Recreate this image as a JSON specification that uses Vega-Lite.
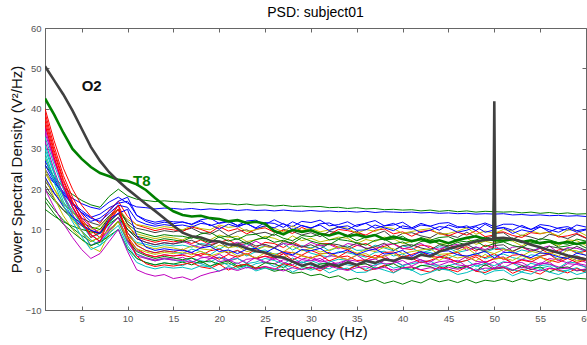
{
"$schema":"https://vega.github.io/schema/vega-lite/v6.json",
"autosize":{"type":"none"},
"width":541,"height":282,
"padding":{"left":45,"top":28,"right":1,"bottom":35},
"background":"white",
"title":{"text":"PSD: subject01","fontSize":14,"fontWeight":"normal","font":"Liberation Sans","color":"#000","offset":3,"anchor":"middle"},
"config":{"view":{"stroke":"#666","strokeWidth":1},"font":"Liberation Sans"},
"datasets":{
"bg":[
{"c":1,"f":1,"v":24},{"c":1,"f":2,"v":21.5},{"c":1,"f":3,"v":19.3},{"c":1,"f":4,"v":17.7},{"c":1,"f":5,"v":16.4},{"c":1,"f":6,"v":15.5},{"c":1,"f":7,"v":15},{"c":1,"f":8,"v":16.8},{"c":1,"f":9,"v":18},{"c":1,"f":10,"v":16.5},{"c":1,"f":11,"v":15.6},{"c":1,"f":12,"v":15.4},{"c":1,"f":13,"v":15.1},{"c":1,"f":14,"v":15.3},{"c":1,"f":15,"v":15.2},
{"c":1,"f":16,"v":15.0},{"c":1,"f":17,"v":15.2},{"c":1,"f":18,"v":14.9},{"c":1,"f":19,"v":15.1},{"c":1,"f":20,"v":14.9},{"c":1,"f":21,"v":15.0},{"c":1,"f":22,"v":14.7},{"c":1,"f":23,"v":14.9},{"c":1,"f":24,"v":14.7},{"c":1,"f":25,"v":14.8},{"c":1,"f":26,"v":14.6},{"c":1,"f":27,"v":14.8},{"c":1,"f":28,"v":14.6},{"c":1,"f":29,"v":14.5},{"c":1,"f":30,"v":14.7},
{"c":1,"f":31,"v":14.5},{"c":1,"f":32,"v":14.6},{"c":1,"f":33,"v":14.4},{"c":1,"f":34,"v":14.5},{"c":1,"f":35,"v":14.3},{"c":1,"f":36,"v":14.5},{"c":1,"f":37,"v":14.2},{"c":1,"f":38,"v":14.4},{"c":1,"f":39,"v":14.3},{"c":1,"f":40,"v":14.2},{"c":1,"f":41,"v":14.3},{"c":1,"f":42,"v":14.1},{"c":1,"f":43,"v":14.2},{"c":1,"f":44,"v":14.0},{"c":1,"f":45,"v":14.1},
{"c":1,"f":46,"v":13.9},{"c":1,"f":47,"v":14.0},{"c":1,"f":48,"v":13.8},{"c":1,"f":49,"v":13.9},{"c":1,"f":50,"v":13.8},{"c":1,"f":51,"v":13.9},{"c":1,"f":52,"v":13.6},{"c":1,"f":53,"v":13.7},{"c":1,"f":54,"v":13.5},{"c":1,"f":55,"v":13.6},{"c":1,"f":56,"v":13.4},{"c":1,"f":57,"v":13.5},{"c":1,"f":58,"v":13.3},{"c":1,"f":59,"v":13.4},{"c":1,"f":60,"v":13.2},
{"c":2,"f":1,"v":26},{"c":2,"f":2,"v":23.1},{"c":2,"f":3,"v":20.5},{"c":2,"f":4,"v":18.7},{"c":2,"f":5,"v":17.2},{"c":2,"f":6,"v":16.1},{"c":2,"f":7,"v":15.5},{"c":2,"f":8,"v":18.2},{"c":2,"f":9,"v":20},{"c":2,"f":10,"v":18.3},{"c":2,"f":11,"v":17.5},{"c":2,"f":12,"v":17.2},{"c":2,"f":13,"v":16.9},{"c":2,"f":14,"v":17.1},{"c":2,"f":15,"v":16.9},
{"c":2,"f":16,"v":16.8},{"c":2,"f":17,"v":16.6},{"c":2,"f":18,"v":16.7},{"c":2,"f":19,"v":16.4},{"c":2,"f":20,"v":16.3},{"c":2,"f":21,"v":16.4},{"c":2,"f":22,"v":16.1},{"c":2,"f":23,"v":16.3},{"c":2,"f":24,"v":16.0},{"c":2,"f":25,"v":16.1},{"c":2,"f":26,"v":15.8},{"c":2,"f":27,"v":16.0},{"c":2,"f":28,"v":15.7},{"c":2,"f":29,"v":15.8},{"c":2,"f":30,"v":15.6},
{"c":2,"f":31,"v":15.7},{"c":2,"f":32,"v":15.4},{"c":2,"f":33,"v":15.5},{"c":2,"f":34,"v":15.2},{"c":2,"f":35,"v":15.4},{"c":2,"f":36,"v":15.1},{"c":2,"f":37,"v":15.2},{"c":2,"f":38,"v":14.9},{"c":2,"f":39,"v":15.0},{"c":2,"f":40,"v":14.8},{"c":2,"f":41,"v":14.9},{"c":2,"f":42,"v":14.6},{"c":2,"f":43,"v":14.8},{"c":2,"f":44,"v":14.5},{"c":2,"f":45,"v":14.7},
{"c":2,"f":46,"v":14.4},{"c":2,"f":47,"v":14.6},{"c":2,"f":48,"v":14.3},{"c":2,"f":49,"v":14.5},{"c":2,"f":50,"v":14.4},{"c":2,"f":51,"v":14.3},{"c":2,"f":52,"v":14.4},{"c":2,"f":53,"v":14.1},{"c":2,"f":54,"v":14.3},{"c":2,"f":55,"v":14.0},{"c":2,"f":56,"v":14.2},{"c":2,"f":57,"v":13.9},{"c":2,"f":58,"v":14.1},{"c":2,"f":59,"v":13.8},{"c":2,"f":60,"v":13.9},
{"c":3,"f":1,"v":39},{"c":3,"f":2,"v":30.6},{"c":3,"f":3,"v":23.4},{"c":3,"f":4,"v":18},{"c":3,"f":5,"v":13.8},{"c":3,"f":6,"v":10.8},{"c":3,"f":7,"v":9},{"c":3,"f":8,"v":13.2},{"c":3,"f":9,"v":16},{"c":3,"f":10,"v":11.2},{"c":3,"f":11,"v":8.1},{"c":3,"f":12,"v":7.4},{"c":3,"f":13,"v":6.8},{"c":3,"f":14,"v":7.3},{"c":3,"f":15,"v":6.9},
{"c":3,"f":16,"v":7.3},{"c":3,"f":17,"v":6.5},{"c":3,"f":18,"v":7.4},{"c":3,"f":19,"v":6.2},{"c":3,"f":20,"v":6.8},{"c":3,"f":21,"v":7.4},{"c":3,"f":22,"v":6.1},{"c":3,"f":23,"v":6.5},{"c":3,"f":24,"v":5.5},{"c":3,"f":25,"v":6.8},{"c":3,"f":26,"v":6.5},{"c":3,"f":27,"v":5.5},{"c":3,"f":28,"v":6.9},{"c":3,"f":29,"v":5.8},{"c":3,"f":30,"v":5.3},
{"c":3,"f":31,"v":6.4},{"c":3,"f":32,"v":6.5},{"c":3,"f":33,"v":5.6},{"c":3,"f":34,"v":5.0},{"c":3,"f":35,"v":6.0},{"c":3,"f":36,"v":6.5},{"c":3,"f":37,"v":5.3},{"c":3,"f":38,"v":5.8},{"c":3,"f":39,"v":6.5},{"c":3,"f":40,"v":5.3},{"c":3,"f":41,"v":5.0},{"c":3,"f":42,"v":6.1},{"c":3,"f":43,"v":5.8},{"c":3,"f":44,"v":4.7},{"c":3,"f":45,"v":6.1},
{"c":3,"f":46,"v":5.3},{"c":3,"f":47,"v":5.7},{"c":3,"f":48,"v":4.6},{"c":3,"f":49,"v":6.1},{"c":3,"f":49.9,"v":5.5},{"c":3,"f":50,"v":18},{"c":3,"f":50.1,"v":5.0},{"c":3,"f":51,"v":5.2},{"c":3,"f":52,"v":4.5},{"c":3,"f":53,"v":5.6},{"c":3,"f":54,"v":4.6},{"c":3,"f":55,"v":5.3},{"c":3,"f":56,"v":3.9},{"c":3,"f":57,"v":4.9},{"c":3,"f":58,"v":5.2},{"c":3,"f":59,"v":4.1},{"c":3,"f":60,"v":4.6},
{"c":4,"f":1,"v":33},{"c":4,"f":2,"v":26},{"c":4,"f":3,"v":20},{"c":4,"f":4,"v":15.5},{"c":4,"f":5,"v":11.5},{"c":4,"f":6,"v":8},{"c":4,"f":7,"v":9.2},{"c":4,"f":8,"v":11.6},{"c":4,"f":9,"v":14},{"c":4,"f":10,"v":9.2},{"c":4,"f":11,"v":6},{"c":4,"f":12,"v":4.8},{"c":4,"f":13,"v":4.2},{"c":4,"f":14,"v":4.7},{"c":4,"f":15,"v":4.4},
{"c":4,"f":16,"v":4.0},{"c":4,"f":17,"v":5.1},{"c":4,"f":18,"v":4.5},{"c":4,"f":19,"v":3.7},{"c":4,"f":20,"v":5.2},{"c":4,"f":21,"v":4.1},{"c":4,"f":22,"v":4.7},{"c":4,"f":23,"v":3.4},{"c":4,"f":24,"v":4.5},{"c":4,"f":25,"v":4.9},{"c":4,"f":26,"v":3.8},{"c":4,"f":27,"v":4.3},{"c":4,"f":28,"v":3.5},{"c":4,"f":29,"v":5.0},{"c":4,"f":30,"v":4.1},
{"c":4,"f":31,"v":3.5},{"c":4,"f":32,"v":3.2},{"c":4,"f":33,"v":4.5},{"c":4,"f":34,"v":4.2},{"c":4,"f":35,"v":3.7},{"c":4,"f":36,"v":3.1},{"c":4,"f":37,"v":4.3},{"c":4,"f":38,"v":4.6},{"c":4,"f":39,"v":3.4},{"c":4,"f":40,"v":3.9},{"c":4,"f":41,"v":2.8},{"c":4,"f":42,"v":4.0},{"c":4,"f":43,"v":4.3},{"c":4,"f":44,"v":3.5},{"c":4,"f":45,"v":2.9},
{"c":4,"f":46,"v":3.8},{"c":4,"f":47,"v":3.1},{"c":4,"f":48,"v":4.2},{"c":4,"f":49,"v":2.7},{"c":4,"f":50,"v":3.5},{"c":4,"f":51,"v":3.9},{"c":4,"f":52,"v":3.0},{"c":4,"f":53,"v":2.5},{"c":4,"f":54,"v":3.7},{"c":4,"f":55,"v":3.4},{"c":4,"f":56,"v":3.9},{"c":4,"f":57,"v":2.6},{"c":4,"f":58,"v":2.9},{"c":4,"f":59,"v":3.5},{"c":4,"f":60,"v":2.4},
{"c":5,"f":1,"v":36},{"c":5,"f":2,"v":27.9},{"c":5,"f":3,"v":20.9},{"c":5,"f":4,"v":15.7},{"c":5,"f":5,"v":11.6},{"c":5,"f":6,"v":8.7},{"c":5,"f":7,"v":7},{"c":5,"f":8,"v":10.6},{"c":5,"f":9,"v":13},{"c":5,"f":10,"v":7.3},{"c":5,"f":11,"v":3.9},{"c":5,"f":12,"v":3.0},{"c":5,"f":13,"v":2.4},{"c":5,"f":14,"v":2.9},{"c":5,"f":15,"v":2.6},
{"c":5,"f":16,"v":3.1},{"c":5,"f":17,"v":2.1},{"c":5,"f":18,"v":1.5},{"c":5,"f":19,"v":2.7},{"c":5,"f":20,"v":3.1},{"c":5,"f":21,"v":2.1},{"c":5,"f":22,"v":2.8},{"c":5,"f":23,"v":1.7},{"c":5,"f":24,"v":3.1},{"c":5,"f":25,"v":1.9},{"c":5,"f":26,"v":1.4},{"c":5,"f":27,"v":2.5},{"c":5,"f":28,"v":2.2},{"c":5,"f":29,"v":1.6},{"c":5,"f":30,"v":2.8},
{"c":5,"f":31,"v":1.9},{"c":5,"f":32,"v":2.3},{"c":5,"f":33,"v":1.2},{"c":5,"f":34,"v":2.5},{"c":5,"f":35,"v":2.1},{"c":5,"f":36,"v":1.4},{"c":5,"f":37,"v":0.9},{"c":5,"f":38,"v":2.3},{"c":5,"f":39,"v":2.4},{"c":5,"f":40,"v":1.1},{"c":5,"f":41,"v":1.8},{"c":5,"f":42,"v":2.5},{"c":5,"f":43,"v":1.3},{"c":5,"f":44,"v":1.1},{"c":5,"f":45,"v":1.9},
{"c":5,"f":46,"v":2.3},{"c":5,"f":47,"v":0.8},{"c":5,"f":48,"v":1.6},{"c":5,"f":49,"v":1.0},{"c":5,"f":50,"v":2.0},{"c":5,"f":51,"v":0.5},{"c":5,"f":52,"v":1.6},{"c":5,"f":53,"v":1.8},{"c":5,"f":54,"v":0.6},{"c":5,"f":55,"v":1.3},{"c":5,"f":56,"v":1.9},{"c":5,"f":57,"v":0.2},{"c":5,"f":58,"v":1.5},{"c":5,"f":59,"v":1.3},{"c":5,"f":60,"v":0.7},
{"c":6,"f":1,"v":28},{"c":6,"f":2,"v":22.7},{"c":6,"f":3,"v":18.1},{"c":6,"f":4,"v":14.7},{"c":6,"f":5,"v":11.7},{"c":6,"f":6,"v":9},{"c":6,"f":7,"v":10},{"c":6,"f":8,"v":12},{"c":6,"f":9,"v":14},{"c":6,"f":10,"v":10.7},{"c":6,"f":11,"v":8.9},{"c":6,"f":12,"v":8.3},{"c":6,"f":13,"v":7.7},{"c":6,"f":14,"v":8.2},{"c":6,"f":15,"v":7.9},
{"c":6,"f":16,"v":7.4},{"c":6,"f":17,"v":8.4},{"c":6,"f":18,"v":7.7},{"c":6,"f":19,"v":7.4},{"c":6,"f":20,"v":8.6},{"c":6,"f":21,"v":8.0},{"c":6,"f":22,"v":8.3},{"c":6,"f":23,"v":7.0},{"c":6,"f":24,"v":7.4},{"c":6,"f":25,"v":8.3},{"c":6,"f":26,"v":7.8},{"c":6,"f":27,"v":6.9},{"c":6,"f":28,"v":8.4},{"c":6,"f":29,"v":7.2},{"c":6,"f":30,"v":7.8},
{"c":6,"f":31,"v":6.9},{"c":6,"f":32,"v":7.4},{"c":6,"f":33,"v":8.1},{"c":6,"f":34,"v":7.8},{"c":6,"f":35,"v":6.5},{"c":6,"f":36,"v":7.5},{"c":6,"f":37,"v":7.0},{"c":6,"f":38,"v":8.1},{"c":6,"f":39,"v":7.7},{"c":6,"f":40,"v":6.5},{"c":6,"f":41,"v":7.0},{"c":6,"f":42,"v":7.4},{"c":6,"f":43,"v":7.7},{"c":6,"f":44,"v":6.3},{"c":6,"f":45,"v":6.5},
{"c":6,"f":46,"v":7.1},{"c":6,"f":47,"v":7.9},{"c":6,"f":48,"v":6.3},{"c":6,"f":49,"v":7.1},{"c":6,"f":50,"v":6.5},{"c":6,"f":51,"v":7.5},{"c":6,"f":52,"v":7.1},{"c":6,"f":53,"v":5.9},{"c":6,"f":54,"v":7.1},{"c":6,"f":55,"v":6.5},{"c":6,"f":56,"v":6.8},{"c":6,"f":57,"v":5.9},{"c":6,"f":58,"v":7.4},{"c":6,"f":59,"v":7.2},{"c":6,"f":60,"v":6.0},
{"c":7,"f":1,"v":22},{"c":7,"f":2,"v":18.9},{"c":7,"f":3,"v":16.3},{"c":7,"f":4,"v":14.3},{"c":7,"f":5,"v":12.8},{"c":7,"f":6,"v":11.7},{"c":7,"f":7,"v":11},{"c":7,"f":8,"v":13.4},{"c":7,"f":9,"v":15},{"c":7,"f":10,"v":12.0},{"c":7,"f":11,"v":10.3},{"c":7,"f":12,"v":9.8},{"c":7,"f":13,"v":9.2},{"c":7,"f":14,"v":9.7},{"c":7,"f":15,"v":9.4},
{"c":7,"f":16,"v":9.8},{"c":7,"f":17,"v":10.3},{"c":7,"f":18,"v":9.2},{"c":7,"f":19,"v":8.8},{"c":7,"f":20,"v":9.9},{"c":7,"f":21,"v":8.4},{"c":7,"f":22,"v":9.5},{"c":7,"f":23,"v":9.9},{"c":7,"f":24,"v":8.9},{"c":7,"f":25,"v":9.3},{"c":7,"f":26,"v":8.5},{"c":7,"f":27,"v":10.0},{"c":7,"f":28,"v":9.5},{"c":7,"f":29,"v":8.6},{"c":7,"f":30,"v":9.2},
{"c":7,"f":31,"v":8.2},{"c":7,"f":32,"v":9.5},{"c":7,"f":33,"v":9.2},{"c":7,"f":34,"v":8.5},{"c":7,"f":35,"v":9.6},{"c":7,"f":36,"v":8.2},{"c":7,"f":37,"v":8.7},{"c":7,"f":38,"v":9.6},{"c":7,"f":39,"v":7.8},{"c":7,"f":40,"v":9.0},{"c":7,"f":41,"v":9.2},{"c":7,"f":42,"v":8.4},{"c":7,"f":43,"v":7.9},{"c":7,"f":44,"v":9.2},{"c":7,"f":45,"v":8.6},
{"c":7,"f":46,"v":8.0},{"c":7,"f":47,"v":9.3},{"c":7,"f":48,"v":8.1},{"c":7,"f":49,"v":7.8},{"c":7,"f":49.9,"v":8.3},{"c":7,"f":50,"v":36},{"c":7,"f":50.1,"v":9.0},{"c":7,"f":51,"v":9.2},{"c":7,"f":52,"v":7.6},{"c":7,"f":53,"v":8.6},{"c":7,"f":54,"v":8.1},{"c":7,"f":55,"v":7.4},{"c":7,"f":56,"v":8.8},{"c":7,"f":57,"v":8.4},{"c":7,"f":58,"v":7.7},{"c":7,"f":59,"v":8.8},{"c":7,"f":60,"v":7.8},
{"c":8,"f":1,"v":25},{"c":8,"f":2,"v":21.6},{"c":8,"f":3,"v":18.8},{"c":8,"f":4,"v":16.6},{"c":8,"f":5,"v":14.7},{"c":8,"f":6,"v":13},{"c":8,"f":7,"v":13.8},{"c":8,"f":8,"v":15.4},{"c":8,"f":9,"v":16.5},{"c":8,"f":10,"v":17},{"c":8,"f":11,"v":13.5},{"c":8,"f":12,"v":12.4},{"c":8,"f":13,"v":11.8},{"c":8,"f":14,"v":12.2},{"c":8,"f":15,"v":11.9},
{"c":8,"f":16,"v":11.8},{"c":8,"f":17,"v":11.3},{"c":8,"f":18,"v":12.4},{"c":8,"f":19,"v":12.8},{"c":8,"f":20,"v":11.5},{"c":8,"f":21,"v":11.9},{"c":8,"f":22,"v":11.0},{"c":8,"f":23,"v":12.1},{"c":8,"f":24,"v":12.3},{"c":8,"f":25,"v":11.2},{"c":8,"f":26,"v":12.4},{"c":8,"f":27,"v":11.3},{"c":8,"f":28,"v":10.7},{"c":8,"f":29,"v":12.0},{"c":8,"f":30,"v":11.7},
{"c":8,"f":31,"v":12.3},{"c":8,"f":32,"v":10.9},{"c":8,"f":33,"v":11.2},{"c":8,"f":34,"v":11.9},{"c":8,"f":35,"v":10.7},{"c":8,"f":36,"v":11.6},{"c":8,"f":37,"v":12.2},{"c":8,"f":38,"v":10.9},{"c":8,"f":39,"v":11.1},{"c":8,"f":40,"v":11.8},{"c":8,"f":41,"v":10.4},{"c":8,"f":42,"v":11.5},{"c":8,"f":43,"v":10.8},{"c":8,"f":44,"v":11.5},{"c":8,"f":45,"v":11.7},
{"c":8,"f":46,"v":10.7},{"c":8,"f":47,"v":10.4},{"c":8,"f":48,"v":10.9},{"c":8,"f":49,"v":11.6},{"c":8,"f":49.9,"v":10.8},{"c":8,"f":50,"v":23},{"c":8,"f":50.1,"v":10.6},{"c":8,"f":51,"v":11.3},{"c":8,"f":52,"v":11.3},{"c":8,"f":53,"v":10.6},{"c":8,"f":54,"v":10.0},{"c":8,"f":55,"v":11.2},{"c":8,"f":56,"v":10.9},{"c":8,"f":57,"v":10.2},{"c":8,"f":58,"v":9.8},{"c":8,"f":59,"v":11.1},{"c":8,"f":60,"v":10.6},
{"c":9,"f":1,"v":20},{"c":9,"f":2,"v":17.2},{"c":9,"f":3,"v":14.8},{"c":9,"f":4,"v":13},{"c":9,"f":5,"v":11.6},{"c":9,"f":6,"v":10.6},{"c":9,"f":7,"v":10},{"c":9,"f":8,"v":13},{"c":9,"f":9,"v":15},{"c":9,"f":10,"v":11.4},{"c":9,"f":11,"v":9.5},{"c":9,"f":12,"v":8.8},{"c":9,"f":13,"v":8.2},{"c":9,"f":14,"v":8.7},{"c":9,"f":15,"v":8.4},
{"c":9,"f":16,"v":8.3},{"c":9,"f":17,"v":7.8},{"c":9,"f":18,"v":8.9},{"c":9,"f":19,"v":9.3},{"c":9,"f":20,"v":8.0},{"c":9,"f":21,"v":8.4},{"c":9,"f":22,"v":7.5},{"c":9,"f":23,"v":8.6},{"c":9,"f":24,"v":8.8},{"c":9,"f":25,"v":7.7},{"c":9,"f":26,"v":8.9},{"c":9,"f":27,"v":7.8},{"c":9,"f":28,"v":7.2},{"c":9,"f":29,"v":8.5},{"c":9,"f":30,"v":8.2},
{"c":9,"f":31,"v":8.8},{"c":9,"f":32,"v":7.4},{"c":9,"f":33,"v":7.7},{"c":9,"f":34,"v":8.4},{"c":9,"f":35,"v":7.2},{"c":9,"f":36,"v":8.1},{"c":9,"f":37,"v":8.7},{"c":9,"f":38,"v":7.4},{"c":9,"f":39,"v":7.6},{"c":9,"f":40,"v":8.3},{"c":9,"f":41,"v":6.9},{"c":9,"f":42,"v":8.0},{"c":9,"f":43,"v":7.3},{"c":9,"f":44,"v":8.0},{"c":9,"f":45,"v":8.2},
{"c":9,"f":46,"v":7.2},{"c":9,"f":47,"v":6.9},{"c":9,"f":48,"v":7.4},{"c":9,"f":49,"v":8.1},{"c":9,"f":49.9,"v":7.3},{"c":9,"f":50,"v":16},{"c":9,"f":50.1,"v":7.1},{"c":9,"f":51,"v":7.8},{"c":9,"f":52,"v":7.8},{"c":9,"f":53,"v":7.1},{"c":9,"f":54,"v":6.5},{"c":9,"f":55,"v":7.7},{"c":9,"f":56,"v":7.4},{"c":9,"f":57,"v":6.7},{"c":9,"f":58,"v":6.3},{"c":9,"f":59,"v":7.6},{"c":9,"f":60,"v":7.1},
{"c":10,"f":1,"v":40},{"c":10,"f":2,"v":32},{"c":10,"f":3,"v":25.2},{"c":10,"f":4,"v":20},{"c":10,"f":5,"v":16},{"c":10,"f":6,"v":13.2},{"c":10,"f":7,"v":11.5},{"c":10,"f":8,"v":14.8},{"c":10,"f":9,"v":17},{"c":10,"f":10,"v":13.2},{"c":10,"f":11,"v":11.1},{"c":10,"f":12,"v":10.4},{"c":10,"f":13,"v":9.7},{"c":10,"f":14,"v":10.2},{"c":10,"f":15,"v":9.9},
{"c":10,"f":16,"v":9.5},{"c":10,"f":17,"v":10.6},{"c":10,"f":18,"v":10.0},{"c":10,"f":19,"v":9.2},{"c":10,"f":20,"v":10.7},{"c":10,"f":21,"v":9.6},{"c":10,"f":22,"v":10.2},{"c":10,"f":23,"v":8.9},{"c":10,"f":24,"v":10.0},{"c":10,"f":25,"v":10.4},{"c":10,"f":26,"v":9.3},{"c":10,"f":27,"v":9.8},{"c":10,"f":28,"v":9.0},{"c":10,"f":29,"v":10.5},{"c":10,"f":30,"v":9.6},
{"c":10,"f":31,"v":9.0},{"c":10,"f":32,"v":8.7},{"c":10,"f":33,"v":10.0},{"c":10,"f":34,"v":9.7},{"c":10,"f":35,"v":9.2},{"c":10,"f":36,"v":8.6},{"c":10,"f":37,"v":9.8},{"c":10,"f":38,"v":10.1},{"c":10,"f":39,"v":8.9},{"c":10,"f":40,"v":9.4},{"c":10,"f":41,"v":8.3},{"c":10,"f":42,"v":9.5},{"c":10,"f":43,"v":9.8},{"c":10,"f":44,"v":9.0},{"c":10,"f":45,"v":8.4},
{"c":10,"f":46,"v":9.3},{"c":10,"f":47,"v":8.6},{"c":10,"f":48,"v":9.7},{"c":10,"f":49,"v":8.2},{"c":10,"f":49.9,"v":8.6},{"c":10,"f":50,"v":20},{"c":10,"f":50.1,"v":9.2},{"c":10,"f":51,"v":9.4},{"c":10,"f":52,"v":8.5},{"c":10,"f":53,"v":8.0},{"c":10,"f":54,"v":9.2},{"c":10,"f":55,"v":8.9},{"c":10,"f":56,"v":9.4},{"c":10,"f":57,"v":8.1},{"c":10,"f":58,"v":8.4},{"c":10,"f":59,"v":9.0},{"c":10,"f":60,"v":7.9},
{"c":11,"f":1,"v":30},{"c":11,"f":2,"v":23.8},{"c":11,"f":3,"v":18.6},{"c":11,"f":4,"v":14.6},{"c":11,"f":5,"v":11.1},{"c":11,"f":6,"v":8},{"c":11,"f":7,"v":9},{"c":11,"f":8,"v":11},{"c":11,"f":9,"v":13},{"c":11,"f":10,"v":9.2},{"c":11,"f":11,"v":6.8},{"c":11,"f":12,"v":6.3},{"c":11,"f":13,"v":5.7},{"c":11,"f":14,"v":6.2},{"c":11,"f":15,"v":5.9},
{"c":11,"f":16,"v":6.1},{"c":11,"f":17,"v":5.6},{"c":11,"f":18,"v":6.5},{"c":11,"f":19,"v":6.2},{"c":11,"f":20,"v":5.1},{"c":11,"f":21,"v":6.3},{"c":11,"f":22,"v":5.6},{"c":11,"f":23,"v":6.5},{"c":11,"f":24,"v":5.2},{"c":11,"f":25,"v":5.9},{"c":11,"f":26,"v":5.4},{"c":11,"f":27,"v":6.5},{"c":11,"f":28,"v":4.9},{"c":11,"f":29,"v":6.0},{"c":11,"f":30,"v":5.4},
{"c":11,"f":31,"v":6.1},{"c":11,"f":32,"v":4.7},{"c":11,"f":33,"v":5.6},{"c":11,"f":34,"v":5.9},{"c":11,"f":35,"v":4.8},{"c":11,"f":36,"v":4.9},{"c":11,"f":37,"v":6.1},{"c":11,"f":38,"v":5.4},{"c":11,"f":39,"v":4.7},{"c":11,"f":40,"v":5.9},{"c":11,"f":41,"v":5.4},{"c":11,"f":42,"v":4.2},{"c":11,"f":43,"v":4.8},{"c":11,"f":44,"v":5.7},{"c":11,"f":45,"v":5.4},
{"c":11,"f":46,"v":4.3},{"c":11,"f":47,"v":4.8},{"c":11,"f":48,"v":5.7},{"c":11,"f":49,"v":4.3},{"c":11,"f":50,"v":5.2},{"c":11,"f":51,"v":5.4},{"c":11,"f":52,"v":4.0},{"c":11,"f":53,"v":4.9},{"c":11,"f":54,"v":4.4},{"c":11,"f":55,"v":5.6},{"c":11,"f":56,"v":4.9},{"c":11,"f":57,"v":4.3},{"c":11,"f":58,"v":5.3},{"c":11,"f":59,"v":4.3},{"c":11,"f":60,"v":4.9},
{"c":12,"f":1,"v":34},{"c":12,"f":2,"v":27},{"c":12,"f":3,"v":21},{"c":12,"f":4,"v":16.5},{"c":12,"f":5,"v":13},{"c":12,"f":6,"v":10.5},{"c":12,"f":7,"v":9},{"c":12,"f":8,"v":12},{"c":12,"f":9,"v":14},{"c":12,"f":10,"v":10.0},{"c":12,"f":11,"v":7.7},{"c":12,"f":12,"v":6.8},{"c":12,"f":13,"v":6.2},{"c":12,"f":14,"v":6.7},{"c":12,"f":15,"v":6.4},
{"c":12,"f":16,"v":7.1},{"c":12,"f":17,"v":6.1},{"c":12,"f":18,"v":5.5},{"c":12,"f":19,"v":6.7},{"c":12,"f":20,"v":7.1},{"c":12,"f":21,"v":6.1},{"c":12,"f":22,"v":6.8},{"c":12,"f":23,"v":5.7},{"c":12,"f":24,"v":7.1},{"c":12,"f":25,"v":5.9},{"c":12,"f":26,"v":5.4},{"c":12,"f":27,"v":6.5},{"c":12,"f":28,"v":6.2},{"c":12,"f":29,"v":5.6},{"c":12,"f":30,"v":6.8},
{"c":12,"f":31,"v":5.9},{"c":12,"f":32,"v":6.3},{"c":12,"f":33,"v":5.2},{"c":12,"f":34,"v":6.5},{"c":12,"f":35,"v":6.1},{"c":12,"f":36,"v":5.4},{"c":12,"f":37,"v":4.9},{"c":12,"f":38,"v":6.3},{"c":12,"f":39,"v":6.4},{"c":12,"f":40,"v":5.1},{"c":12,"f":41,"v":5.8},{"c":12,"f":42,"v":6.5},{"c":12,"f":43,"v":5.3},{"c":12,"f":44,"v":5.1},{"c":12,"f":45,"v":5.9},
{"c":12,"f":46,"v":6.3},{"c":12,"f":47,"v":4.8},{"c":12,"f":48,"v":5.6},{"c":12,"f":49,"v":5.0},{"c":12,"f":50,"v":6.0},{"c":12,"f":51,"v":4.5},{"c":12,"f":52,"v":5.6},{"c":12,"f":53,"v":5.8},{"c":12,"f":54,"v":4.6},{"c":12,"f":55,"v":5.3},{"c":12,"f":56,"v":5.9},{"c":12,"f":57,"v":4.2},{"c":12,"f":58,"v":5.5},{"c":12,"f":59,"v":5.3},{"c":12,"f":60,"v":4.7},
{"c":13,"f":1,"v":24},{"c":13,"f":2,"v":20.1},{"c":13,"f":3,"v":16.7},{"c":13,"f":4,"v":14.2},{"c":13,"f":5,"v":12},{"c":13,"f":6,"v":10},{"c":13,"f":7,"v":10.8},{"c":13,"f":8,"v":13},{"c":13,"f":9,"v":15},{"c":13,"f":10,"v":12.5},{"c":13,"f":11,"v":11.2},{"c":13,"f":12,"v":10.8},{"c":13,"f":13,"v":10.2},{"c":13,"f":14,"v":10.7},{"c":13,"f":15,"v":10.4},
{"c":13,"f":16,"v":9.9},{"c":13,"f":17,"v":10.9},{"c":13,"f":18,"v":10.2},{"c":13,"f":19,"v":9.9},{"c":13,"f":20,"v":11.1},{"c":13,"f":21,"v":10.5},{"c":13,"f":22,"v":10.8},{"c":13,"f":23,"v":9.5},{"c":13,"f":24,"v":9.9},{"c":13,"f":25,"v":10.8},{"c":13,"f":26,"v":10.3},{"c":13,"f":27,"v":9.4},{"c":13,"f":28,"v":10.9},{"c":13,"f":29,"v":9.7},{"c":13,"f":30,"v":10.3},
{"c":13,"f":31,"v":9.4},{"c":13,"f":32,"v":9.9},{"c":13,"f":33,"v":10.6},{"c":13,"f":34,"v":10.3},{"c":13,"f":35,"v":9.0},{"c":13,"f":36,"v":10.0},{"c":13,"f":37,"v":9.5},{"c":13,"f":38,"v":10.6},{"c":13,"f":39,"v":10.2},{"c":13,"f":40,"v":9.0},{"c":13,"f":41,"v":9.5},{"c":13,"f":42,"v":9.9},{"c":13,"f":43,"v":10.2},{"c":13,"f":44,"v":8.8},{"c":13,"f":45,"v":9.0},
{"c":13,"f":46,"v":9.6},{"c":13,"f":47,"v":10.4},{"c":13,"f":48,"v":8.8},{"c":13,"f":49,"v":9.6},{"c":13,"f":50,"v":9.0},{"c":13,"f":51,"v":10.0},{"c":13,"f":52,"v":9.6},{"c":13,"f":53,"v":8.4},{"c":13,"f":54,"v":9.6},{"c":13,"f":55,"v":9.0},{"c":13,"f":56,"v":9.3},{"c":13,"f":57,"v":8.4},{"c":13,"f":58,"v":9.9},{"c":13,"f":59,"v":9.7},{"c":13,"f":60,"v":8.5},
{"c":14,"f":1,"v":21},{"c":14,"f":2,"v":17.6},{"c":14,"f":3,"v":14.8},{"c":14,"f":4,"v":12.6},{"c":14,"f":5,"v":10.9},{"c":14,"f":6,"v":9.7},{"c":14,"f":7,"v":9},{"c":14,"f":8,"v":12},{"c":14,"f":9,"v":14},{"c":14,"f":10,"v":10.0},{"c":14,"f":11,"v":7.7},{"c":14,"f":12,"v":6.8},{"c":14,"f":13,"v":6.2},{"c":14,"f":14,"v":6.7},{"c":14,"f":15,"v":6.4},
{"c":14,"f":16,"v":6.8},{"c":14,"f":17,"v":7.3},{"c":14,"f":18,"v":6.2},{"c":14,"f":19,"v":5.8},{"c":14,"f":20,"v":6.9},{"c":14,"f":21,"v":5.4},{"c":14,"f":22,"v":6.5},{"c":14,"f":23,"v":6.9},{"c":14,"f":24,"v":5.9},{"c":14,"f":25,"v":6.3},{"c":14,"f":26,"v":5.5},{"c":14,"f":27,"v":7.0},{"c":14,"f":28,"v":6.5},{"c":14,"f":29,"v":5.6},{"c":14,"f":30,"v":6.2},
{"c":14,"f":31,"v":5.2},{"c":14,"f":32,"v":6.5},{"c":14,"f":33,"v":6.2},{"c":14,"f":34,"v":5.5},{"c":14,"f":35,"v":6.6},{"c":14,"f":36,"v":5.2},{"c":14,"f":37,"v":5.7},{"c":14,"f":38,"v":6.6},{"c":14,"f":39,"v":4.8},{"c":14,"f":40,"v":6.0},{"c":14,"f":41,"v":6.2},{"c":14,"f":42,"v":5.4},{"c":14,"f":43,"v":4.9},{"c":14,"f":44,"v":6.2},{"c":14,"f":45,"v":5.6},
{"c":14,"f":46,"v":5.0},{"c":14,"f":47,"v":6.3},{"c":14,"f":48,"v":5.1},{"c":14,"f":49,"v":4.8},{"c":14,"f":49.9,"v":5.3},{"c":14,"f":50,"v":30},{"c":14,"f":50.1,"v":6.0},{"c":14,"f":51,"v":6.2},{"c":14,"f":52,"v":4.6},{"c":14,"f":53,"v":5.6},{"c":14,"f":54,"v":5.1},{"c":14,"f":55,"v":4.4},{"c":14,"f":56,"v":5.8},{"c":14,"f":57,"v":5.4},{"c":14,"f":58,"v":4.7},{"c":14,"f":59,"v":5.8},{"c":14,"f":60,"v":4.8},
{"c":15,"f":1,"v":27},{"c":15,"f":2,"v":22.8},{"c":15,"f":3,"v":19.2},{"c":15,"f":4,"v":16.5},{"c":15,"f":5,"v":14.1},{"c":15,"f":6,"v":12},{"c":15,"f":7,"v":12.8},{"c":15,"f":8,"v":14.5},{"c":15,"f":9,"v":17},{"c":15,"f":10,"v":18},{"c":15,"f":11,"v":13.5},{"c":15,"f":12,"v":12},{"c":15,"f":13,"v":11.3},{"c":15,"f":14,"v":11.8},{"c":15,"f":15,"v":11.4},
{"c":15,"f":16,"v":11.9},{"c":15,"f":17,"v":11.2},{"c":15,"f":18,"v":12.1},{"c":15,"f":19,"v":10.9},{"c":15,"f":20,"v":11.6},{"c":15,"f":21,"v":12.2},{"c":15,"f":22,"v":10.9},{"c":15,"f":23,"v":11.4},{"c":15,"f":24,"v":10.4},{"c":15,"f":25,"v":11.7},{"c":15,"f":26,"v":11.5},{"c":15,"f":27,"v":10.5},{"c":15,"f":28,"v":11.9},{"c":15,"f":29,"v":10.9},{"c":15,"f":30,"v":10.3},
{"c":15,"f":31,"v":11.4},{"c":15,"f":32,"v":11.6},{"c":15,"f":33,"v":10.6},{"c":15,"f":34,"v":10.0},{"c":15,"f":35,"v":11.1},{"c":15,"f":36,"v":11.5},{"c":15,"f":37,"v":10.3},{"c":15,"f":38,"v":10.9},{"c":15,"f":39,"v":11.5},{"c":15,"f":40,"v":10.3},{"c":15,"f":41,"v":10.1},{"c":15,"f":42,"v":11.1},{"c":15,"f":43,"v":10.8},{"c":15,"f":44,"v":9.8},{"c":15,"f":45,"v":11.1},
{"c":15,"f":46,"v":10.4},{"c":15,"f":47,"v":10.9},{"c":15,"f":48,"v":9.7},{"c":15,"f":49,"v":11.3},{"c":15,"f":50,"v":10.1},{"c":15,"f":51,"v":10.5},{"c":15,"f":52,"v":9.8},{"c":15,"f":53,"v":11.0},{"c":15,"f":54,"v":10.0},{"c":15,"f":55,"v":10.7},{"c":15,"f":56,"v":9.4},{"c":15,"f":57,"v":10.4},{"c":15,"f":58,"v":10.7},{"c":15,"f":59,"v":9.7},{"c":15,"f":60,"v":10.1},
{"c":16,"f":1,"v":15},{"c":16,"f":2,"v":13.3},{"c":16,"f":3,"v":11.9},{"c":16,"f":4,"v":10.8},{"c":16,"f":5,"v":10},{"c":16,"f":6,"v":9.4},{"c":16,"f":7,"v":9},{"c":16,"f":8,"v":11.4},{"c":16,"f":9,"v":13},{"c":16,"f":10,"v":10.0},{"c":16,"f":11,"v":8.3},{"c":16,"f":12,"v":7.8},{"c":16,"f":13,"v":7.2},{"c":16,"f":14,"v":7.7},{"c":16,"f":15,"v":7.4},
{"c":16,"f":16,"v":7.0},{"c":16,"f":17,"v":8.1},{"c":16,"f":18,"v":7.5},{"c":16,"f":19,"v":6.7},{"c":16,"f":20,"v":8.2},{"c":16,"f":21,"v":7.1},{"c":16,"f":22,"v":7.7},{"c":16,"f":23,"v":6.4},{"c":16,"f":24,"v":7.5},{"c":16,"f":25,"v":7.9},{"c":16,"f":26,"v":6.8},{"c":16,"f":27,"v":7.3},{"c":16,"f":28,"v":6.5},{"c":16,"f":29,"v":8.0},{"c":16,"f":30,"v":7.1},
{"c":16,"f":31,"v":6.5},{"c":16,"f":32,"v":6.2},{"c":16,"f":33,"v":7.5},{"c":16,"f":34,"v":7.2},{"c":16,"f":35,"v":6.7},{"c":16,"f":36,"v":6.1},{"c":16,"f":37,"v":7.3},{"c":16,"f":38,"v":7.6},{"c":16,"f":39,"v":6.4},{"c":16,"f":40,"v":6.9},{"c":16,"f":41,"v":5.8},{"c":16,"f":42,"v":7.0},{"c":16,"f":43,"v":7.3},{"c":16,"f":44,"v":6.5},{"c":16,"f":45,"v":5.9},
{"c":16,"f":46,"v":6.8},{"c":16,"f":47,"v":6.1},{"c":16,"f":48,"v":7.2},{"c":16,"f":49,"v":5.7},{"c":16,"f":50,"v":6.5},{"c":16,"f":51,"v":6.9},{"c":16,"f":52,"v":6.0},{"c":16,"f":53,"v":5.5},{"c":16,"f":54,"v":6.7},{"c":16,"f":55,"v":6.4},{"c":16,"f":56,"v":6.9},{"c":16,"f":57,"v":5.6},{"c":16,"f":58,"v":5.9},{"c":16,"f":59,"v":6.5},{"c":16,"f":60,"v":5.4},
{"c":17,"f":1,"v":38},{"c":17,"f":2,"v":29.6},{"c":17,"f":3,"v":22.4},{"c":17,"f":4,"v":17},{"c":17,"f":5,"v":12.2},{"c":17,"f":6,"v":8},{"c":17,"f":7,"v":9.4},{"c":17,"f":8,"v":12.2},{"c":17,"f":9,"v":15},{"c":17,"f":10,"v":9.2},{"c":17,"f":11,"v":6.1},{"c":17,"f":12,"v":4.8},{"c":17,"f":13,"v":4.2},{"c":17,"f":14,"v":4.7},{"c":17,"f":15,"v":4.4},
{"c":17,"f":16,"v":5.1},{"c":17,"f":17,"v":4.1},{"c":17,"f":18,"v":3.5},{"c":17,"f":19,"v":4.7},{"c":17,"f":20,"v":5.1},{"c":17,"f":21,"v":4.1},{"c":17,"f":22,"v":4.8},{"c":17,"f":23,"v":3.7},{"c":17,"f":24,"v":5.1},{"c":17,"f":25,"v":3.9},{"c":17,"f":26,"v":3.4},{"c":17,"f":27,"v":4.5},{"c":17,"f":28,"v":4.2},{"c":17,"f":29,"v":3.6},{"c":17,"f":30,"v":4.8},
{"c":17,"f":31,"v":3.9},{"c":17,"f":32,"v":4.3},{"c":17,"f":33,"v":3.2},{"c":17,"f":34,"v":4.5},{"c":17,"f":35,"v":4.1},{"c":17,"f":36,"v":3.4},{"c":17,"f":37,"v":2.9},{"c":17,"f":38,"v":4.3},{"c":17,"f":39,"v":4.4},{"c":17,"f":40,"v":3.1},{"c":17,"f":41,"v":3.8},{"c":17,"f":42,"v":4.5},{"c":17,"f":43,"v":3.3},{"c":17,"f":44,"v":3.1},{"c":17,"f":45,"v":3.9},
{"c":17,"f":46,"v":4.3},{"c":17,"f":47,"v":2.8},{"c":17,"f":48,"v":3.6},{"c":17,"f":49,"v":3.0},{"c":17,"f":50,"v":4.0},{"c":17,"f":51,"v":2.5},{"c":17,"f":52,"v":3.6},{"c":17,"f":53,"v":3.8},{"c":17,"f":54,"v":2.6},{"c":17,"f":55,"v":3.3},{"c":17,"f":56,"v":3.9},{"c":17,"f":57,"v":2.2},{"c":17,"f":58,"v":3.5},{"c":17,"f":59,"v":3.3},{"c":17,"f":60,"v":2.7},
{"c":18,"f":1,"v":29},{"c":18,"f":2,"v":22.6},{"c":18,"f":3,"v":17},{"c":18,"f":4,"v":12.9},{"c":18,"f":5,"v":9.7},{"c":18,"f":6,"v":7.4},{"c":18,"f":7,"v":6},{"c":18,"f":8,"v":9.6},{"c":18,"f":9,"v":12},{"c":18,"f":10,"v":6.7},{"c":18,"f":11,"v":3.9},{"c":18,"f":12,"v":2.8},{"c":18,"f":13,"v":2.2},{"c":18,"f":14,"v":2.7},{"c":18,"f":15,"v":2.4},
{"c":18,"f":16,"v":1.9},{"c":18,"f":17,"v":2.9},{"c":18,"f":18,"v":2.2},{"c":18,"f":19,"v":1.9},{"c":18,"f":20,"v":3.1},{"c":18,"f":21,"v":2.5},{"c":18,"f":22,"v":2.8},{"c":18,"f":23,"v":1.5},{"c":18,"f":24,"v":1.9},{"c":18,"f":25,"v":2.8},{"c":18,"f":26,"v":2.3},{"c":18,"f":27,"v":1.4},{"c":18,"f":28,"v":2.9},{"c":18,"f":29,"v":1.7},{"c":18,"f":30,"v":2.3},
{"c":18,"f":31,"v":1.4},{"c":18,"f":32,"v":1.9},{"c":18,"f":33,"v":2.6},{"c":18,"f":34,"v":2.3},{"c":18,"f":35,"v":1.0},{"c":18,"f":36,"v":2.0},{"c":18,"f":37,"v":1.5},{"c":18,"f":38,"v":2.6},{"c":18,"f":39,"v":2.2},{"c":18,"f":40,"v":1.0},{"c":18,"f":41,"v":1.5},{"c":18,"f":42,"v":1.9},{"c":18,"f":43,"v":2.2},{"c":18,"f":44,"v":0.8},{"c":18,"f":45,"v":1.0},
{"c":18,"f":46,"v":1.6},{"c":18,"f":47,"v":2.4},{"c":18,"f":48,"v":0.8},{"c":18,"f":49,"v":1.6},{"c":18,"f":50,"v":1.0},{"c":18,"f":51,"v":2.0},{"c":18,"f":52,"v":1.6},{"c":18,"f":53,"v":0.4},{"c":18,"f":54,"v":1.6},{"c":18,"f":55,"v":1.0},{"c":18,"f":56,"v":1.3},{"c":18,"f":57,"v":0.4},{"c":18,"f":58,"v":1.9},{"c":18,"f":59,"v":1.7},{"c":18,"f":60,"v":0.5},
{"c":19,"f":1,"v":32},{"c":19,"f":2,"v":24.7},{"c":19,"f":3,"v":18.5},{"c":19,"f":4,"v":13.8},{"c":19,"f":5,"v":9.6},{"c":19,"f":6,"v":6},{"c":19,"f":7,"v":7.2},{"c":19,"f":8,"v":9.6},{"c":19,"f":9,"v":12},{"c":19,"f":10,"v":7.3},{"c":19,"f":11,"v":4.8},{"c":19,"f":12,"v":3.8},{"c":19,"f":13,"v":3.2},{"c":19,"f":14,"v":3.7},{"c":19,"f":15,"v":3.4},
{"c":19,"f":16,"v":3.8},{"c":19,"f":17,"v":4.3},{"c":19,"f":18,"v":3.2},{"c":19,"f":19,"v":2.8},{"c":19,"f":20,"v":3.9},{"c":19,"f":21,"v":2.4},{"c":19,"f":22,"v":3.5},{"c":19,"f":23,"v":3.9},{"c":19,"f":24,"v":2.9},{"c":19,"f":25,"v":3.3},{"c":19,"f":26,"v":2.5},{"c":19,"f":27,"v":4.0},{"c":19,"f":28,"v":3.5},{"c":19,"f":29,"v":2.6},{"c":19,"f":30,"v":3.2},
{"c":19,"f":31,"v":2.2},{"c":19,"f":32,"v":3.5},{"c":19,"f":33,"v":3.2},{"c":19,"f":34,"v":2.5},{"c":19,"f":35,"v":3.6},{"c":19,"f":36,"v":2.2},{"c":19,"f":37,"v":2.7},{"c":19,"f":38,"v":3.6},{"c":19,"f":39,"v":1.8},{"c":19,"f":40,"v":3.0},{"c":19,"f":41,"v":3.2},{"c":19,"f":42,"v":2.4},{"c":19,"f":43,"v":1.9},{"c":19,"f":44,"v":3.2},{"c":19,"f":45,"v":2.6},
{"c":19,"f":46,"v":2.0},{"c":19,"f":47,"v":3.3},{"c":19,"f":48,"v":2.1},{"c":19,"f":49,"v":1.8},{"c":19,"f":50,"v":2.8},{"c":19,"f":51,"v":3.2},{"c":19,"f":52,"v":1.6},{"c":19,"f":53,"v":2.6},{"c":19,"f":54,"v":2.1},{"c":19,"f":55,"v":1.4},{"c":19,"f":56,"v":2.8},{"c":19,"f":57,"v":2.4},{"c":19,"f":58,"v":1.7},{"c":19,"f":59,"v":2.8},{"c":19,"f":60,"v":1.8},
{"c":20,"f":1,"v":23},{"c":20,"f":2,"v":17.8},{"c":20,"f":3,"v":13.4},{"c":20,"f":4,"v":10},{"c":20,"f":5,"v":7.5},{"c":20,"f":6,"v":5.6},{"c":20,"f":7,"v":4.5},{"c":20,"f":8,"v":9},{"c":20,"f":9,"v":12},{"c":20,"f":10,"v":8.4},{"c":20,"f":11,"v":6.5},{"c":20,"f":12,"v":5.8},{"c":20,"f":13,"v":5.2},{"c":20,"f":14,"v":5.7},{"c":20,"f":15,"v":5.4},
{"c":20,"f":16,"v":4.9},{"c":20,"f":17,"v":5.9},{"c":20,"f":18,"v":5.2},{"c":20,"f":19,"v":4.9},{"c":20,"f":20,"v":6.1},{"c":20,"f":21,"v":5.5},{"c":20,"f":22,"v":5.8},{"c":20,"f":23,"v":4.5},{"c":20,"f":24,"v":4.9},{"c":20,"f":25,"v":5.8},{"c":20,"f":26,"v":5.3},{"c":20,"f":27,"v":4.4},{"c":20,"f":28,"v":5.9},{"c":20,"f":29,"v":4.7},{"c":20,"f":30,"v":5.3},
{"c":20,"f":31,"v":4.4},{"c":20,"f":32,"v":4.9},{"c":20,"f":33,"v":5.6},{"c":20,"f":34,"v":5.3},{"c":20,"f":35,"v":4.0},{"c":20,"f":36,"v":5.0},{"c":20,"f":37,"v":4.5},{"c":20,"f":38,"v":5.6},{"c":20,"f":39,"v":5.2},{"c":20,"f":40,"v":4.0},{"c":20,"f":41,"v":4.5},{"c":20,"f":42,"v":4.9},{"c":20,"f":43,"v":5.2},{"c":20,"f":44,"v":3.8},{"c":20,"f":45,"v":4.0},
{"c":20,"f":46,"v":4.6},{"c":20,"f":47,"v":5.4},{"c":20,"f":48,"v":3.8},{"c":20,"f":49,"v":4.6},{"c":20,"f":50,"v":4.0},{"c":20,"f":51,"v":5.0},{"c":20,"f":52,"v":4.6},{"c":20,"f":53,"v":3.4},{"c":20,"f":54,"v":4.6},{"c":20,"f":55,"v":4.0},{"c":20,"f":56,"v":4.3},{"c":20,"f":57,"v":3.4},{"c":20,"f":58,"v":4.9},{"c":20,"f":59,"v":4.7},{"c":20,"f":60,"v":3.5},
{"c":22,"f":1,"v":26},{"c":22,"f":2,"v":22.1},{"c":22,"f":3,"v":18.7},{"c":22,"f":4,"v":16.2},{"c":22,"f":5,"v":14.2},{"c":22,"f":6,"v":12.8},{"c":22,"f":7,"v":12},{"c":22,"f":8,"v":14},{"c":22,"f":9,"v":16},{"c":22,"f":10,"v":15.5},{"c":22,"f":11,"v":12.2},{"c":22,"f":12,"v":11.3},{"c":22,"f":13,"v":10.8},{"c":22,"f":14,"v":11.2},{"c":22,"f":15,"v":10.9},
{"c":22,"f":16,"v":11.1},{"c":22,"f":17,"v":10.6},{"c":22,"f":18,"v":11.5},{"c":22,"f":19,"v":11.2},{"c":22,"f":20,"v":10.1},{"c":22,"f":21,"v":11.3},{"c":22,"f":22,"v":10.6},{"c":22,"f":23,"v":11.5},{"c":22,"f":24,"v":10.2},{"c":22,"f":25,"v":10.9},{"c":22,"f":26,"v":10.4},{"c":22,"f":27,"v":11.5},{"c":22,"f":28,"v":9.9},{"c":22,"f":29,"v":11.0},{"c":22,"f":30,"v":10.4},
{"c":22,"f":31,"v":11.1},{"c":22,"f":32,"v":9.7},{"c":22,"f":33,"v":10.6},{"c":22,"f":34,"v":10.9},{"c":22,"f":35,"v":9.8},{"c":22,"f":36,"v":9.9},{"c":22,"f":37,"v":11.1},{"c":22,"f":38,"v":10.4},{"c":22,"f":39,"v":9.7},{"c":22,"f":40,"v":10.9},{"c":22,"f":41,"v":10.4},{"c":22,"f":42,"v":9.2},{"c":22,"f":43,"v":9.8},{"c":22,"f":44,"v":10.7},{"c":22,"f":45,"v":10.4},
{"c":22,"f":46,"v":9.3},{"c":22,"f":47,"v":9.8},{"c":22,"f":48,"v":10.7},{"c":22,"f":49,"v":9.3},{"c":22,"f":49.9,"v":9.8},{"c":22,"f":50,"v":21},{"c":22,"f":50.1,"v":10.3},{"c":22,"f":51,"v":10.4},{"c":22,"f":52,"v":9.0},{"c":22,"f":53,"v":9.9},{"c":22,"f":54,"v":9.4},{"c":22,"f":55,"v":10.6},{"c":22,"f":56,"v":9.9},{"c":22,"f":57,"v":9.3},{"c":22,"f":58,"v":10.3},{"c":22,"f":59,"v":9.3},{"c":22,"f":60,"v":9.9},
{"c":23,"f":1,"v":18},{"c":23,"f":2,"v":14.9},{"c":23,"f":3,"v":12.3},{"c":23,"f":4,"v":10.3},{"c":23,"f":5,"v":8.5},{"c":23,"f":6,"v":7},{"c":23,"f":7,"v":8},{"c":23,"f":8,"v":10},{"c":23,"f":9,"v":12},{"c":23,"f":10,"v":7.5},{"c":23,"f":11,"v":4.5},{"c":23,"f":12,"v":3.5},{"c":23,"f":13,"v":2.8},{"c":23,"f":14,"v":3.3},{"c":23,"f":15,"v":2.9},
{"c":23,"f":16,"v":2.5},{"c":23,"f":17,"v":2.9},{"c":23,"f":18,"v":1.8},{"c":23,"f":19,"v":2.2},{"c":23,"f":20,"v":1.3},{"c":23,"f":21,"v":1.7},{"c":23,"f":22,"v":0.6},{"c":23,"f":23,"v":1.1},{"c":23,"f":24,"v":0.2},{"c":23,"f":25,"v":0.5},{"c":23,"f":26,"v":-0.4},{"c":23,"f":27,"v":0.1},{"c":23,"f":28,"v":-0.9},{"c":23,"f":29,"v":-0.6},{"c":23,"f":30,"v":-1.5},
{"c":23,"f":31,"v":-1.1},{"c":23,"f":32,"v":-2.0},{"c":23,"f":33,"v":-1.5},{"c":23,"f":34,"v":-2.6},{"c":23,"f":35,"v":-2.1},{"c":23,"f":36,"v":-3.0},{"c":23,"f":37,"v":-2.4},{"c":23,"f":38,"v":-3.4},{"c":23,"f":39,"v":-2.8},{"c":23,"f":40,"v":-3.6},{"c":23,"f":41,"v":-2.7},{"c":23,"f":42,"v":-3.3},{"c":23,"f":43,"v":-2.2},{"c":23,"f":44,"v":-3.0},{"c":23,"f":45,"v":-2.5},
{"c":23,"f":46,"v":-3.2},{"c":23,"f":47,"v":-2.4},{"c":23,"f":48,"v":-3.3},{"c":23,"f":49,"v":-2.6},{"c":23,"f":50,"v":-2.9},{"c":23,"f":51,"v":-2.3},{"c":23,"f":52,"v":-3.0},{"c":23,"f":53,"v":-2.2},{"c":23,"f":54,"v":-2.8},{"c":23,"f":55,"v":-2.1},{"c":23,"f":56,"v":-2.7},{"c":23,"f":57,"v":-2.0},{"c":23,"f":58,"v":-2.6},{"c":23,"f":59,"v":-2.1},{"c":23,"f":60,"v":-2.3},
{"c":24,"f":1,"v":37},{"c":24,"f":2,"v":28.9},{"c":24,"f":3,"v":21.9},{"c":24,"f":4,"v":16.7},{"c":24,"f":5,"v":12.6},{"c":24,"f":6,"v":9.7},{"c":24,"f":7,"v":8},{"c":24,"f":8,"v":12.2},{"c":24,"f":9,"v":15},{"c":24,"f":10,"v":8.2},{"c":24,"f":11,"v":5.2},{"c":24,"f":12,"v":3.8},{"c":24,"f":13,"v":3.2},{"c":24,"f":14,"v":3.7},{"c":24,"f":15,"v":3.4},
{"c":24,"f":16,"v":3.6},{"c":24,"f":17,"v":3.1},{"c":24,"f":18,"v":4.0},{"c":24,"f":19,"v":3.7},{"c":24,"f":20,"v":2.6},{"c":24,"f":21,"v":3.8},{"c":24,"f":22,"v":3.1},{"c":24,"f":23,"v":4.0},{"c":24,"f":24,"v":2.7},{"c":24,"f":25,"v":3.4},{"c":24,"f":26,"v":2.9},{"c":24,"f":27,"v":4.0},{"c":24,"f":28,"v":2.4},{"c":24,"f":29,"v":3.5},{"c":24,"f":30,"v":2.9},
{"c":24,"f":31,"v":3.6},{"c":24,"f":32,"v":2.2},{"c":24,"f":33,"v":3.1},{"c":24,"f":34,"v":3.4},{"c":24,"f":35,"v":2.3},{"c":24,"f":36,"v":2.4},{"c":24,"f":37,"v":3.6},{"c":24,"f":38,"v":2.9},{"c":24,"f":39,"v":2.2},{"c":24,"f":40,"v":3.4},{"c":24,"f":41,"v":2.9},{"c":24,"f":42,"v":1.7},{"c":24,"f":43,"v":2.3},{"c":24,"f":44,"v":3.2},{"c":24,"f":45,"v":2.9},
{"c":24,"f":46,"v":1.8},{"c":24,"f":47,"v":2.3},{"c":24,"f":48,"v":3.2},{"c":24,"f":49,"v":1.8},{"c":24,"f":50,"v":2.7},{"c":24,"f":51,"v":2.9},{"c":24,"f":52,"v":1.5},{"c":24,"f":53,"v":2.4},{"c":24,"f":54,"v":1.9},{"c":24,"f":55,"v":3.1},{"c":24,"f":56,"v":2.4},{"c":24,"f":57,"v":1.8},{"c":24,"f":58,"v":2.8},{"c":24,"f":59,"v":1.8},{"c":24,"f":60,"v":2.4},
{"c":25,"f":1,"v":31},{"c":25,"f":2,"v":24},{"c":25,"f":3,"v":18},{"c":25,"f":4,"v":13.5},{"c":25,"f":5,"v":9.5},{"c":25,"f":6,"v":6},{"c":25,"f":7,"v":7},{"c":25,"f":8,"v":9},{"c":25,"f":9,"v":11},{"c":25,"f":10,"v":6.0},{"c":25,"f":11,"v":2.8},{"c":25,"f":12,"v":1.8},{"c":25,"f":13,"v":1.2},{"c":25,"f":14,"v":1.7},{"c":25,"f":15,"v":1.4},
{"c":25,"f":16,"v":1.0},{"c":25,"f":17,"v":2.1},{"c":25,"f":18,"v":1.5},{"c":25,"f":19,"v":0.7},{"c":25,"f":20,"v":2.2},{"c":25,"f":21,"v":1.1},{"c":25,"f":22,"v":1.7},{"c":25,"f":23,"v":0.4},{"c":25,"f":24,"v":1.5},{"c":25,"f":25,"v":1.9},{"c":25,"f":26,"v":0.8},{"c":25,"f":27,"v":1.3},{"c":25,"f":28,"v":0.5},{"c":25,"f":29,"v":2.0},{"c":25,"f":30,"v":1.1},
{"c":25,"f":31,"v":0.5},{"c":25,"f":32,"v":0.2},{"c":25,"f":33,"v":1.5},{"c":25,"f":34,"v":1.2},{"c":25,"f":35,"v":0.7},{"c":25,"f":36,"v":0.1},{"c":25,"f":37,"v":1.3},{"c":25,"f":38,"v":1.6},{"c":25,"f":39,"v":0.4},{"c":25,"f":40,"v":0.9},{"c":25,"f":41,"v":-0.2},{"c":25,"f":42,"v":1.0},{"c":25,"f":43,"v":1.3},{"c":25,"f":44,"v":0.5},{"c":25,"f":45,"v":-0.1},
{"c":25,"f":46,"v":0.8},{"c":25,"f":47,"v":0.1},{"c":25,"f":48,"v":1.2},{"c":25,"f":49,"v":-0.3},{"c":25,"f":50,"v":0.5},{"c":25,"f":51,"v":0.9},{"c":25,"f":52,"v":0.0},{"c":25,"f":53,"v":-0.5},{"c":25,"f":54,"v":0.7},{"c":25,"f":55,"v":0.4},{"c":25,"f":56,"v":0.9},{"c":25,"f":57,"v":-0.4},{"c":25,"f":58,"v":-0.1},{"c":25,"f":59,"v":0.5},{"c":25,"f":60,"v":-0.6},
{"c":26,"f":1,"v":35},{"c":26,"f":2,"v":27.2},{"c":26,"f":3,"v":20.4},{"c":26,"f":4,"v":15.4},{"c":26,"f":5,"v":11.5},{"c":26,"f":6,"v":8.7},{"c":26,"f":7,"v":7},{"c":26,"f":8,"v":10.6},{"c":26,"f":9,"v":13},{"c":26,"f":10,"v":7.1},{"c":26,"f":11,"v":3.4},{"c":26,"f":12,"v":2.8},{"c":26,"f":13,"v":2.2},{"c":26,"f":14,"v":2.7},{"c":26,"f":15,"v":2.4},
{"c":26,"f":16,"v":2.3},{"c":26,"f":17,"v":1.8},{"c":26,"f":18,"v":2.9},{"c":26,"f":19,"v":3.3},{"c":26,"f":20,"v":2.0},{"c":26,"f":21,"v":2.4},{"c":26,"f":22,"v":1.5},{"c":26,"f":23,"v":2.6},{"c":26,"f":24,"v":2.8},{"c":26,"f":25,"v":1.7},{"c":26,"f":26,"v":2.9},{"c":26,"f":27,"v":1.8},{"c":26,"f":28,"v":1.2},{"c":26,"f":29,"v":2.5},{"c":26,"f":30,"v":2.2},
{"c":26,"f":31,"v":2.8},{"c":26,"f":32,"v":1.4},{"c":26,"f":33,"v":1.7},{"c":26,"f":34,"v":2.4},{"c":26,"f":35,"v":1.2},{"c":26,"f":36,"v":2.1},{"c":26,"f":37,"v":2.7},{"c":26,"f":38,"v":1.4},{"c":26,"f":39,"v":1.6},{"c":26,"f":40,"v":2.3},{"c":26,"f":41,"v":0.9},{"c":26,"f":42,"v":2.0},{"c":26,"f":43,"v":1.3},{"c":26,"f":44,"v":2.0},{"c":26,"f":45,"v":2.2},
{"c":26,"f":46,"v":1.2},{"c":26,"f":47,"v":0.9},{"c":26,"f":48,"v":1.4},{"c":26,"f":49,"v":2.1},{"c":26,"f":50,"v":0.4},{"c":26,"f":51,"v":1.8},{"c":26,"f":52,"v":1.8},{"c":26,"f":53,"v":1.1},{"c":26,"f":54,"v":0.5},{"c":26,"f":55,"v":1.7},{"c":26,"f":56,"v":1.4},{"c":26,"f":57,"v":0.7},{"c":26,"f":58,"v":0.3},{"c":26,"f":59,"v":1.6},{"c":26,"f":60,"v":1.1},
{"c":27,"f":1,"v":25},{"c":27,"f":2,"v":20},{"c":27,"f":3,"v":15.6},{"c":27,"f":4,"v":12.4},{"c":27,"f":5,"v":9.5},{"c":27,"f":6,"v":7},{"c":27,"f":7,"v":8},{"c":27,"f":8,"v":10},{"c":27,"f":9,"v":12},{"c":27,"f":10,"v":7.6},{"c":27,"f":11,"v":5.2},{"c":27,"f":12,"v":4.4},{"c":27,"f":13,"v":3.8},{"c":27,"f":14,"v":4.3},{"c":27,"f":15,"v":4.0},
{"c":27,"f":16,"v":4.4},{"c":27,"f":17,"v":3.7},{"c":27,"f":18,"v":4.6},{"c":27,"f":19,"v":3.4},{"c":27,"f":20,"v":4.1},{"c":27,"f":21,"v":4.7},{"c":27,"f":22,"v":3.4},{"c":27,"f":23,"v":3.9},{"c":27,"f":24,"v":2.9},{"c":27,"f":25,"v":4.2},{"c":27,"f":26,"v":4.0},{"c":27,"f":27,"v":3.0},{"c":27,"f":28,"v":4.4},{"c":27,"f":29,"v":3.4},{"c":27,"f":30,"v":2.8},
{"c":27,"f":31,"v":3.9},{"c":27,"f":32,"v":4.1},{"c":27,"f":33,"v":3.1},{"c":27,"f":34,"v":2.5},{"c":27,"f":35,"v":3.6},{"c":27,"f":36,"v":4.0},{"c":27,"f":37,"v":2.8},{"c":27,"f":38,"v":3.4},{"c":27,"f":39,"v":4.0},{"c":27,"f":40,"v":2.8},{"c":27,"f":41,"v":2.6},{"c":27,"f":42,"v":3.6},{"c":27,"f":43,"v":3.3},{"c":27,"f":44,"v":2.3},{"c":27,"f":45,"v":3.6},
{"c":27,"f":46,"v":2.9},{"c":27,"f":47,"v":3.4},{"c":27,"f":48,"v":2.2},{"c":27,"f":49,"v":3.8},{"c":27,"f":50,"v":2.6},{"c":27,"f":51,"v":3.0},{"c":27,"f":52,"v":2.3},{"c":27,"f":53,"v":3.5},{"c":27,"f":54,"v":2.5},{"c":27,"f":55,"v":3.2},{"c":27,"f":56,"v":1.9},{"c":27,"f":57,"v":2.9},{"c":27,"f":58,"v":3.2},{"c":27,"f":59,"v":2.2},{"c":27,"f":60,"v":2.6},
{"c":29,"f":1,"v":23},{"c":29,"f":2,"v":19.1},{"c":29,"f":3,"v":15.7},{"c":29,"f":4,"v":13.2},{"c":29,"f":5,"v":11.2},{"c":29,"f":6,"v":9.8},{"c":29,"f":7,"v":9},{"c":29,"f":8,"v":12.6},{"c":29,"f":9,"v":14},{"c":29,"f":10,"v":15},{"c":29,"f":11,"v":8.5},{"c":29,"f":12,"v":5.6},{"c":29,"f":13,"v":4.8},{"c":29,"f":14,"v":5.2},{"c":29,"f":15,"v":4.9},
{"c":29,"f":16,"v":4.8},{"c":29,"f":17,"v":4.3},{"c":29,"f":18,"v":5.4},{"c":29,"f":19,"v":5.8},{"c":29,"f":20,"v":4.5},{"c":29,"f":21,"v":4.9},{"c":29,"f":22,"v":4.0},{"c":29,"f":23,"v":5.1},{"c":29,"f":24,"v":5.3},{"c":29,"f":25,"v":4.2},{"c":29,"f":26,"v":5.4},{"c":29,"f":27,"v":4.3},{"c":29,"f":28,"v":3.7},{"c":29,"f":29,"v":5.0},{"c":29,"f":30,"v":4.7},
{"c":29,"f":31,"v":5.3},{"c":29,"f":32,"v":3.9},{"c":29,"f":33,"v":4.2},{"c":29,"f":34,"v":4.9},{"c":29,"f":35,"v":3.7},{"c":29,"f":36,"v":4.6},{"c":29,"f":37,"v":5.2},{"c":29,"f":38,"v":3.9},{"c":29,"f":39,"v":4.1},{"c":29,"f":40,"v":4.8},{"c":29,"f":41,"v":3.4},{"c":29,"f":42,"v":4.5},{"c":29,"f":43,"v":3.8},{"c":29,"f":44,"v":4.5},{"c":29,"f":45,"v":4.7},
{"c":29,"f":46,"v":3.7},{"c":29,"f":47,"v":3.4},{"c":29,"f":48,"v":3.9},{"c":29,"f":49,"v":4.6},{"c":29,"f":50,"v":2.9},{"c":29,"f":51,"v":4.3},{"c":29,"f":52,"v":4.3},{"c":29,"f":53,"v":3.6},{"c":29,"f":54,"v":3.0},{"c":29,"f":55,"v":4.2},{"c":29,"f":56,"v":3.9},{"c":29,"f":57,"v":3.2},{"c":29,"f":58,"v":2.8},{"c":29,"f":59,"v":4.1},{"c":29,"f":60,"v":3.6},
{"c":30,"f":1,"v":17},{"c":30,"f":2,"v":13.9},{"c":30,"f":3,"v":11.3},{"c":30,"f":4,"v":9.3},{"c":30,"f":5,"v":7.5},{"c":30,"f":6,"v":6},{"c":30,"f":7,"v":6.8},{"c":30,"f":8,"v":8.4},{"c":30,"f":9,"v":10},{"c":30,"f":10,"v":5.3},{"c":30,"f":11,"v":2.8},{"c":30,"f":12,"v":1.8},{"c":30,"f":13,"v":1.2},{"c":30,"f":14,"v":1.7},{"c":30,"f":15,"v":1.4},
{"c":30,"f":16,"v":1.9},{"c":30,"f":17,"v":1.2},{"c":30,"f":18,"v":2.1},{"c":30,"f":19,"v":0.9},{"c":30,"f":20,"v":1.6},{"c":30,"f":21,"v":2.2},{"c":30,"f":22,"v":0.9},{"c":30,"f":23,"v":1.4},{"c":30,"f":24,"v":0.4},{"c":30,"f":25,"v":1.7},{"c":30,"f":26,"v":1.5},{"c":30,"f":27,"v":0.5},{"c":30,"f":28,"v":1.9},{"c":30,"f":29,"v":0.9},{"c":30,"f":30,"v":0.3},
{"c":30,"f":31,"v":1.4},{"c":30,"f":32,"v":1.6},{"c":30,"f":33,"v":0.6},{"c":30,"f":34,"v":0.0},{"c":30,"f":35,"v":1.1},{"c":30,"f":36,"v":1.5},{"c":30,"f":37,"v":0.3},{"c":30,"f":38,"v":0.9},{"c":30,"f":39,"v":1.5},{"c":30,"f":40,"v":0.3},{"c":30,"f":41,"v":0.1},{"c":30,"f":42,"v":1.1},{"c":30,"f":43,"v":0.8},{"c":30,"f":44,"v":-0.2},{"c":30,"f":45,"v":1.1},
{"c":30,"f":46,"v":0.4},{"c":30,"f":47,"v":0.9},{"c":30,"f":48,"v":-0.3},{"c":30,"f":49,"v":1.3},{"c":30,"f":50,"v":0.1},{"c":30,"f":51,"v":0.5},{"c":30,"f":52,"v":-0.2},{"c":30,"f":53,"v":1.0},{"c":30,"f":54,"v":0.0},{"c":30,"f":55,"v":0.7},{"c":30,"f":56,"v":-0.6},{"c":30,"f":57,"v":0.4},{"c":30,"f":58,"v":0.7},{"c":30,"f":59,"v":-0.3},{"c":30,"f":60,"v":0.1},
{"c":31,"f":1,"v":36},{"c":31,"f":2,"v":27.9},{"c":31,"f":3,"v":20.9},{"c":31,"f":4,"v":15.7},{"c":31,"f":5,"v":11.6},{"c":31,"f":6,"v":8.7},{"c":31,"f":7,"v":7},{"c":31,"f":8,"v":12.4},{"c":31,"f":9,"v":16},{"c":31,"f":10,"v":8.3},{"c":31,"f":11,"v":3.4},{"c":31,"f":12,"v":1.5},{"c":31,"f":13,"v":0.8},{"c":31,"f":14,"v":1.2},{"c":31,"f":15,"v":0.9},
{"c":31,"f":16,"v":1.3},{"c":31,"f":17,"v":1.8},{"c":31,"f":18,"v":0.7},{"c":31,"f":19,"v":0.3},{"c":31,"f":20,"v":1.4},{"c":31,"f":21,"v":-0.1},{"c":31,"f":22,"v":1.0},{"c":31,"f":23,"v":1.4},{"c":31,"f":24,"v":0.4},{"c":31,"f":25,"v":0.8},{"c":31,"f":26,"v":0.0},{"c":31,"f":27,"v":1.5},{"c":31,"f":28,"v":1.0},{"c":31,"f":29,"v":0.1},{"c":31,"f":30,"v":0.7},
{"c":31,"f":31,"v":-0.3},{"c":31,"f":32,"v":1.0},{"c":31,"f":33,"v":0.7},{"c":31,"f":34,"v":0.0},{"c":31,"f":35,"v":1.1},{"c":31,"f":36,"v":-0.3},{"c":31,"f":37,"v":0.2},{"c":31,"f":38,"v":1.1},{"c":31,"f":39,"v":-0.7},{"c":31,"f":40,"v":0.5},{"c":31,"f":41,"v":0.7},{"c":31,"f":42,"v":-0.1},{"c":31,"f":43,"v":-0.6},{"c":31,"f":44,"v":0.7},{"c":31,"f":45,"v":0.1},
{"c":31,"f":46,"v":-0.5},{"c":31,"f":47,"v":0.8},{"c":31,"f":48,"v":-0.4},{"c":31,"f":49,"v":-0.7},{"c":31,"f":50,"v":0.3},{"c":31,"f":51,"v":0.7},{"c":31,"f":52,"v":-0.9},{"c":31,"f":53,"v":0.1},{"c":31,"f":54,"v":-0.4},{"c":31,"f":55,"v":-1.1},{"c":31,"f":56,"v":0.3},{"c":31,"f":57,"v":-0.1},{"c":31,"f":58,"v":-0.8},{"c":31,"f":59,"v":0.3},{"c":31,"f":60,"v":-0.7},
{"c":32,"f":1,"v":28},{"c":32,"f":2,"v":21.6},{"c":32,"f":3,"v":16},{"c":32,"f":4,"v":11.9},{"c":32,"f":5,"v":8.2},{"c":32,"f":6,"v":5},{"c":32,"f":7,"v":6},{"c":32,"f":8,"v":8},{"c":32,"f":9,"v":10},{"c":32,"f":10,"v":5.0},{"c":32,"f":11,"v":1.8},{"c":32,"f":12,"v":0.8},{"c":32,"f":13,"v":0.2},{"c":32,"f":14,"v":0.7},{"c":32,"f":15,"v":0.4},
{"c":32,"f":16,"v":0.6},{"c":32,"f":17,"v":0.1},{"c":32,"f":18,"v":1.0},{"c":32,"f":19,"v":0.7},{"c":32,"f":20,"v":-0.4},{"c":32,"f":21,"v":0.8},{"c":32,"f":22,"v":0.1},{"c":32,"f":23,"v":1.0},{"c":32,"f":24,"v":-0.3},{"c":32,"f":25,"v":0.4},{"c":32,"f":26,"v":-0.1},{"c":32,"f":27,"v":1.0},{"c":32,"f":28,"v":-0.6},{"c":32,"f":29,"v":0.5},{"c":32,"f":30,"v":-0.1},
{"c":32,"f":31,"v":0.6},{"c":32,"f":32,"v":-0.8},{"c":32,"f":33,"v":0.1},{"c":32,"f":34,"v":0.4},{"c":32,"f":35,"v":-0.7},{"c":32,"f":36,"v":-0.6},{"c":32,"f":37,"v":0.6},{"c":32,"f":38,"v":-0.1},{"c":32,"f":39,"v":-0.8},{"c":32,"f":40,"v":0.4},{"c":32,"f":41,"v":-0.1},{"c":32,"f":42,"v":-1.3},{"c":32,"f":43,"v":-0.7},{"c":32,"f":44,"v":0.2},{"c":32,"f":45,"v":-0.1},
{"c":32,"f":46,"v":-1.2},{"c":32,"f":47,"v":-0.7},{"c":32,"f":48,"v":0.2},{"c":32,"f":49,"v":-1.2},{"c":32,"f":50,"v":-0.3},{"c":32,"f":51,"v":-0.1},{"c":32,"f":52,"v":-1.5},{"c":32,"f":53,"v":-0.6},{"c":32,"f":54,"v":-1.1},{"c":32,"f":55,"v":0.1},{"c":32,"f":56,"v":-0.6},{"c":32,"f":57,"v":-1.2},{"c":32,"f":58,"v":-0.2},{"c":32,"f":59,"v":-1.2},{"c":32,"f":60,"v":-0.6},
{"c":33,"f":1,"v":20},{"c":33,"f":2,"v":15.5},{"c":33,"f":3,"v":11.5},{"c":33,"f":4,"v":8},{"c":33,"f":5,"v":5},{"c":33,"f":6,"v":2.8},{"c":33,"f":7,"v":4},{"c":33,"f":8,"v":7},{"c":33,"f":9,"v":10},{"c":33,"f":10,"v":4.5},{"c":33,"f":11,"v":0},{"c":33,"f":12,"v":-1},{"c":33,"f":13,"v":-1.6},{"c":33,"f":14,"v":-1.2},{"c":33,"f":15,"v":-2.2},
{"c":33,"f":16,"v":-1.8},{"c":33,"f":17,"v":-2.6},{"c":33,"f":18,"v":-1.5},{"c":33,"f":19,"v":-0.8},{"c":33,"f":20,"v":-0.3},{"c":33,"f":21,"v":0.4},{"c":33,"f":22,"v":-0.2},{"c":33,"f":23,"v":0.6},{"c":33,"f":24,"v":0.1},{"c":33,"f":25,"v":0.8},{"c":33,"f":26,"v":0.3},{"c":33,"f":27,"v":-0.3},{"c":33,"f":28,"v":0.5},{"c":33,"f":29,"v":0.0},{"c":33,"f":30,"v":0.6},
{"c":33,"f":31,"v":0.2},{"c":33,"f":32,"v":0.9},{"c":33,"f":33,"v":0.3},{"c":33,"f":34,"v":-0.2},{"c":33,"f":35,"v":0.5},{"c":33,"f":36,"v":0.8},{"c":33,"f":37,"v":0.1},{"c":33,"f":38,"v":0.6},{"c":33,"f":39,"v":-0.1},{"c":33,"f":40,"v":0.4},{"c":33,"f":41,"v":0.7},{"c":33,"f":42,"v":0.0},{"c":33,"f":43,"v":0.5},{"c":33,"f":44,"v":0.2},{"c":33,"f":45,"v":0.6},
{"c":33,"f":46,"v":0.1},{"c":33,"f":47,"v":0.7},{"c":33,"f":48,"v":-0.2},{"c":33,"f":49,"v":0.4},{"c":33,"f":50,"v":0.3},{"c":33,"f":51,"v":0.5},{"c":33,"f":52,"v":-0.1},{"c":33,"f":53,"v":0.6},{"c":33,"f":54,"v":0.2},{"c":33,"f":55,"v":-0.3},{"c":33,"f":56,"v":0.4},{"c":33,"f":57,"v":0.1},{"c":33,"f":58,"v":0.5},{"c":33,"f":59,"v":-0.2},{"c":33,"f":60,"v":0.2}
],
"hl":[
{"c":"O2","f":1,"v":50.5},{"c":"O2","f":2,"v":47},{"c":"O2","f":3,"v":43.5},{"c":"O2","f":4,"v":39.5},{"c":"O2","f":5,"v":35},{"c":"O2","f":6,"v":30.5},{"c":"O2","f":7,"v":27},{"c":"O2","f":8,"v":24.2},{"c":"O2","f":9,"v":22},{"c":"O2","f":10,"v":20},{"c":"O2","f":11,"v":18.2},{"c":"O2","f":12,"v":16.3},{"c":"O2","f":13,"v":14.6},{"c":"O2","f":14,"v":12.8},{"c":"O2","f":15,"v":10.9},
{"c":"O2","f":16,"v":9.2},{"c":"O2","f":17,"v":8.3},{"c":"O2","f":18,"v":8.0},{"c":"O2","f":19,"v":7.2},{"c":"O2","f":20,"v":7.0},{"c":"O2","f":21,"v":6.3},{"c":"O2","f":22,"v":6.1},{"c":"O2","f":23,"v":5.3},{"c":"O2","f":24,"v":4.6},{"c":"O2","f":25,"v":4.3},{"c":"O2","f":26,"v":3.3},{"c":"O2","f":27,"v":3.0},{"c":"O2","f":28,"v":2.0},{"c":"O2","f":29,"v":1.0},{"c":"O2","f":30,"v":1.6},
{"c":"O2","f":31,"v":0.6},{"c":"O2","f":32,"v":1.4},{"c":"O2","f":33,"v":0.9},{"c":"O2","f":34,"v":1.8},{"c":"O2","f":35,"v":1.2},{"c":"O2","f":36,"v":2.2},{"c":"O2","f":37,"v":1.7},{"c":"O2","f":38,"v":2.6},{"c":"O2","f":39,"v":2.2},{"c":"O2","f":40,"v":3.1},{"c":"O2","f":41,"v":2.7},{"c":"O2","f":42,"v":3.7},{"c":"O2","f":43,"v":3.3},{"c":"O2","f":44,"v":4.5},{"c":"O2","f":45,"v":5.2},
{"c":"O2","f":46,"v":5.8},{"c":"O2","f":47,"v":6.4},{"c":"O2","f":48,"v":7.0},{"c":"O2","f":49,"v":7.4},{"c":"O2","f":49.9,"v":7.6},{"c":"O2","f":50,"v":41.8},{"c":"O2","f":50.1,"v":7.8},{"c":"O2","f":51,"v":7.9},{"c":"O2","f":52,"v":7.6},{"c":"O2","f":53,"v":7.0},{"c":"O2","f":54,"v":6.2},{"c":"O2","f":55,"v":5.6},{"c":"O2","f":56,"v":4.8},{"c":"O2","f":57,"v":4.2},{"c":"O2","f":58,"v":3.5},{"c":"O2","f":59,"v":3.0},{"c":"O2","f":60,"v":2.6},
{"c":"T8","f":1,"v":42.5},{"c":"T8","f":2,"v":38.5},{"c":"T8","f":3,"v":34},{"c":"T8","f":4,"v":30},{"c":"T8","f":5,"v":27.5},{"c":"T8","f":6,"v":25.5},{"c":"T8","f":7,"v":24},{"c":"T8","f":8,"v":23.2},{"c":"T8","f":9,"v":22.3},{"c":"T8","f":10,"v":22},{"c":"T8","f":11,"v":21.2},{"c":"T8","f":12,"v":19.8},{"c":"T8","f":13,"v":17.8},{"c":"T8","f":14,"v":16},{"c":"T8","f":15,"v":14.5},
{"c":"T8","f":16,"v":13.6},{"c":"T8","f":17,"v":13.2},{"c":"T8","f":18,"v":13.4},{"c":"T8","f":19,"v":12.8},{"c":"T8","f":20,"v":12.6},{"c":"T8","f":21,"v":12.0},{"c":"T8","f":22,"v":12.3},{"c":"T8","f":23,"v":11.6},{"c":"T8","f":24,"v":11.9},{"c":"T8","f":25,"v":11.4},{"c":"T8","f":26,"v":9.6},{"c":"T8","f":27,"v":8.8},{"c":"T8","f":28,"v":9.9},{"c":"T8","f":29,"v":9.4},{"c":"T8","f":30,"v":9.8},
{"c":"T8","f":31,"v":8.9},{"c":"T8","f":32,"v":8.5},{"c":"T8","f":33,"v":9.2},{"c":"T8","f":34,"v":8.3},{"c":"T8","f":35,"v":8.7},{"c":"T8","f":36,"v":8.1},{"c":"T8","f":37,"v":8.6},{"c":"T8","f":38,"v":7.6},{"c":"T8","f":39,"v":8.2},{"c":"T8","f":40,"v":7.6},{"c":"T8","f":41,"v":7.1},{"c":"T8","f":42,"v":7.6},{"c":"T8","f":43,"v":6.8},{"c":"T8","f":44,"v":7.3},{"c":"T8","f":45,"v":6.6},
{"c":"T8","f":46,"v":7.4},{"c":"T8","f":47,"v":7.9},{"c":"T8","f":48,"v":8.3},{"c":"T8","f":49,"v":7.6},{"c":"T8","f":49.9,"v":7.4},{"c":"T8","f":50,"v":18},{"c":"T8","f":50.1,"v":7.3},{"c":"T8","f":51,"v":7.2},{"c":"T8","f":52,"v":7.6},{"c":"T8","f":53,"v":6.9},{"c":"T8","f":54,"v":7.3},{"c":"T8","f":55,"v":6.6},{"c":"T8","f":56,"v":7.0},{"c":"T8","f":57,"v":6.5},{"c":"T8","f":58,"v":6.9},{"c":"T8","f":59,"v":6.4},{"c":"T8","f":60,"v":6.8}
],
"lab":[{"t":"O2","f":5.0,"v":45.6},{"t":"T8","f":10.6,"v":22.0}]
},
"resolve":{"axis":{"x":"independent","y":"independent"}},
"layer":[
{"data":{"name":"bg"},
 "mark":{"type":"line","strokeWidth":1,"clip":true},
 "encoding":{
  "x":{"field":"f","type":"quantitative","scale":{"domain":[1,60],"nice":false,"zero":false},
       "axis":{"orient":"bottom","values":[5,10,15,20,25,30,35,40,45,50,55,60],"tickSize":-4,"tickColor":"#666","domainColor":"#666","labelColor":"#555","labelFontSize":9.5,"labelFont":"Liberation Sans","labelPadding":7,"labelFlush":false,"labelOverlap":false,"labelBound":false,"grid":false,"title":"Frequency (Hz)","titleFontSize":15,"titleFont":"Liberation Sans","titleFontWeight":"normal","titleColor":"#111","titlePadding":2}},
  "y":{"field":"v","type":"quantitative","scale":{"domain":[-10,60],"nice":false,"zero":false},
       "axis":{"orient":"left","values":[-10,0,10,20,30,40,50,60],"tickSize":-4,"tickColor":"#666","domainColor":"#666","labelColor":"#555","labelFontSize":9.5,"labelFont":"Liberation Sans","labelPadding":8,"labelFlush":false,"labelOverlap":false,"grid":false,"title":"Power Spectral Density (V²/Hz)","titleFontSize":15,"titleFont":"Liberation Sans","titleFontWeight":"normal","titleColor":"#111","titlePadding":0}},
  "color":{"field":"c","type":"nominal","legend":null,
    "scale":{"domain":[1,2,3,4,5,6,7,8,9,10,11,12,13,14,15,16,17,18,19,20,22,23,24,25,26,27,29,30,31,32,33],
             "range":["#0000ff","#008000","#ff0000","#00bfbf","#bf00bf","#bfbf00","#404040","#0000ff","#008000","#ff0000","#00bfbf","#bf00bf","#bfbf00","#404040","#0000ff","#008000","#ff0000","#00bfbf","#bf00bf","#bfbf00","#0000ff","#008000","#ff0000","#00bfbf","#bf00bf","#bfbf00","#0000ff","#008000","#ff0000","#00bfbf","#bf00bf"]}}
 }},
{"data":{"name":"hl"},
 "transform":[{"filter":{"field":"c","equal":"T8"}}],
 "mark":{"type":"line","strokeWidth":2.6,"color":"#008000","clip":true},
 "encoding":{
  "x":{"field":"f","type":"quantitative","scale":{"domain":[1,60],"nice":false,"zero":false},
       "axis":{"orient":"top","values":[5,10,15,20,25,30,35,40,45,50,55,60],"tickSize":-4,"tickColor":"#666","domain":false,"labels":false,"grid":false,"title":null}},
  "y":{"field":"v","type":"quantitative","scale":{"domain":[-10,60],"nice":false,"zero":false},
       "axis":{"orient":"right","values":[-10,0,10,20,30,40,50,60],"tickSize":-4,"tickColor":"#666","domain":false,"labels":false,"grid":false,"title":null}}
 }},
{"data":{"name":"hl"},
 "transform":[{"filter":{"field":"c","equal":"O2"}}],
 "mark":{"type":"line","strokeWidth":2.6,"color":"#404040","clip":true},
 "encoding":{
  "x":{"field":"f","type":"quantitative","scale":{"domain":[1,60],"nice":false,"zero":false},"axis":null},
  "y":{"field":"v","type":"quantitative","scale":{"domain":[-10,60],"nice":false,"zero":false},"axis":null}
 }},
{"data":{"name":"lab"},
 "transform":[{"filter":{"field":"t","equal":"O2"}}],
 "mark":{"type":"text","align":"left","baseline":"middle","fontSize":15,"fontWeight":"bold","font":"Liberation Sans","color":"#111111"},
 "encoding":{
  "x":{"field":"f","type":"quantitative","scale":{"domain":[1,60],"nice":false,"zero":false},"axis":null},
  "y":{"field":"v","type":"quantitative","scale":{"domain":[-10,60],"nice":false,"zero":false},"axis":null},
  "text":{"field":"t"}
 }},
{"data":{"name":"lab"},
 "transform":[{"filter":{"field":"t","equal":"T8"}}],
 "mark":{"type":"text","align":"left","baseline":"middle","fontSize":15,"fontWeight":"bold","font":"Liberation Sans","color":"#008000"},
 "encoding":{
  "x":{"field":"f","type":"quantitative","scale":{"domain":[1,60],"nice":false,"zero":false},"axis":null},
  "y":{"field":"v","type":"quantitative","scale":{"domain":[-10,60],"nice":false,"zero":false},"axis":null},
  "text":{"field":"t"}
 }}
]
}
